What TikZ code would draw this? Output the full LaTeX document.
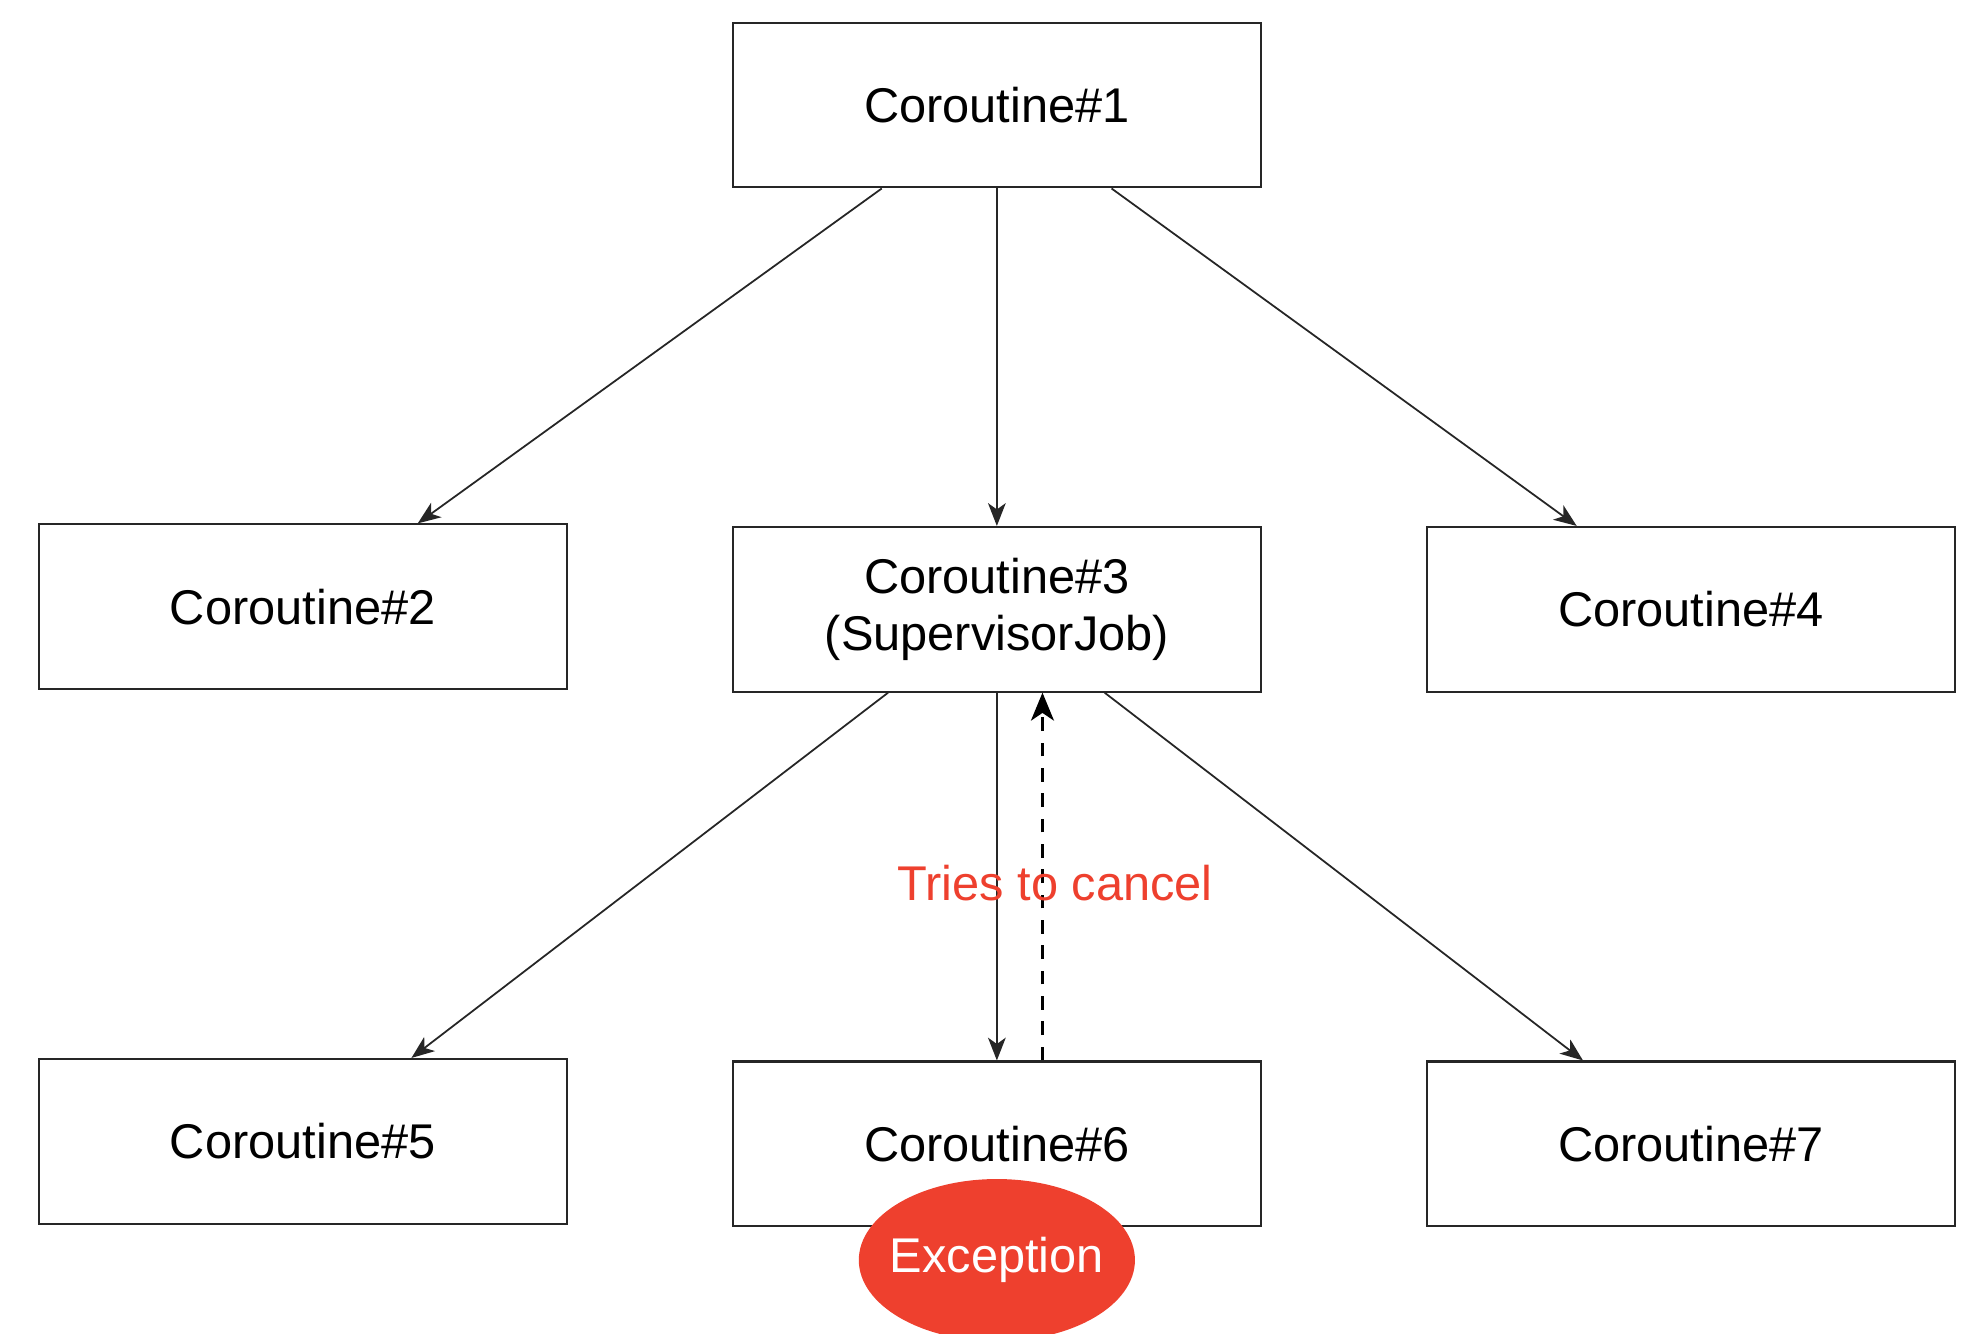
\documentclass[tikz,border=0pt]{standalone}
\usepackage{fontspec}
\setmainfont{Liberation Sans}
\usetikzlibrary{arrows.meta,shapes.geometric}
\definecolor{errred}{HTML}{EE402E}
\begin{document}
\begin{tikzpicture}[
        x=1pt, y=-1pt,
        font=\fontsize{38.5}{45}\selectfont,
        box/.style={
            rectangle, draw=black!85, line width=1.6pt,
            minimum height=130pt, minimum width=417pt,
            text centered, align=center, inner sep=0pt
        },
        arrow/.style={-{Stealth[length=18pt,width=14pt,inset=5pt]}, line width=1.4pt, black!85}
    ]

        \useasboundingbox (0,0) rectangle (1560,1053);

        % Nivel 1
        \node[box] (coro1) at (787,83) {Coroutine\#1};

        % Nivel 2
        \node[box] (coro2) at (239,479) {Coroutine\#2};
        \node[box] (coro3) at (787,481) {Coroutine\#3\\(SupervisorJob)};
        \node[box] (coro4) at (1335,481) {Coroutine\#4};

        % Nivel 3
        \node[box] (coro5) at (239,901) {Coroutine\#5};
        \node[box] (coro6) at (787,903) {Coroutine\#6};
        \node[box] (coro7) at (1335,903) {Coroutine\#7};

        % Excepcion
        \node[ellipse, fill=errred, text=white, minimum width=218pt,
              minimum height=128pt, inner xsep=-14pt, inner ysep=0pt] (exc) at ([yshift=-26pt]coro6.south) {Exception};

        % Flechas
        \draw[arrow] (coro1) -- (coro2);
        \draw[arrow] (coro1) -- (coro3);
        \draw[arrow] (coro1) -- (coro4);

        \draw[arrow] (coro3) -- (coro5);
        \draw[arrow] (coro3) -- (coro6);
        \draw[arrow] (coro3) -- (coro7);

        % Cancelacion
        \draw[-{Stealth[length=22pt,width=18pt,inset=6pt]}, line width=3pt, dash pattern=on 11pt off 9pt]
            ([xshift=36pt]coro6.north) -- ([xshift=36pt]coro3.south)
            node[midway, xshift=10pt, yshift=-5pt, text=errred] {Tries to cancel};

    \end{tikzpicture}
\end{document}
